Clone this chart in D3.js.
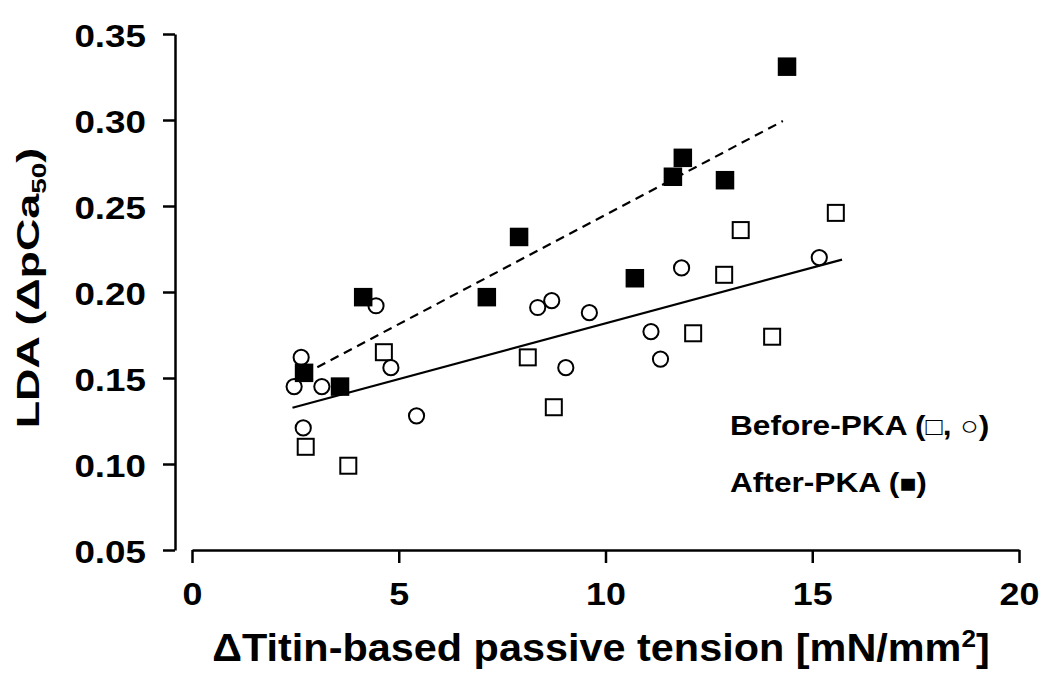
<!DOCTYPE html>
<html>
<head>
<meta charset="utf-8">
<script src="https://cdn.jsdelivr.net/npm/d3@7"></script>
<style>
  html, body { margin: 0; padding: 0; background: #fff; }
  svg { display: block; }
  text { font-family: "Liberation Sans", Arial, Helvetica, sans-serif; font-weight: bold; fill: #000; }
</style>
</head>
<body>
<svg id="chart" width="1050" height="690"></svg>
<script>
// ---- data ----
const beforeSquareX = [2.75, 3.78, 4.64, 8.12, 8.75, 12.12, 12.87, 13.27, 14.03, 15.57];
const beforeSquareY = [0.110, 0.099, 0.165, 0.162, 0.133, 0.176, 0.210, 0.236, 0.174, 0.246];

const beforeCircleX = [2.47, 2.64, 2.69, 3.14, 4.45, 4.81, 5.43, 8.36, 8.70, 9.04, 9.61, 11.10, 11.33, 11.84, 15.17];
const beforeCircleY = [0.145, 0.162, 0.121, 0.145, 0.192, 0.156, 0.128, 0.191, 0.195, 0.156, 0.188, 0.177, 0.161, 0.214, 0.220];

const afterSquareX = [2.71, 3.58, 4.14, 7.13, 7.91, 10.71, 11.63, 11.87, 12.89, 14.39];
const afterSquareY = [0.153, 0.145, 0.197, 0.197, 0.232, 0.208, 0.267, 0.278, 0.265, 0.331];

const beforeFitX = [2.43, 15.72];
const beforeFitY = [0.1327, 0.2188];
const afterFitX = [2.71, 14.29];
const afterFitY = [0.1522, 0.2994];

const xTicks = [0, 5, 10, 15, 20];
const xTickLabels = ["0", "5", "10", "15", "20"];
const yTicks = [0.05, 0.10, 0.15, 0.20, 0.25, 0.30, 0.35];
const yTickLabels = ["0.05", "0.10", "0.15", "0.20", "0.25", "0.30", "0.35"];

// ---- layout ----
const svg = d3.select("#chart");
const x = d3.scaleLinear().domain([0, 20]).range([192, 1019]);
const y = d3.scaleLinear().domain([0.05, 0.35]).range([550, 34]);

const zip = (a, b) => a.map((v, i) => [v, b[i]]);

// fit lines
const line = d3.line().x(d => x(d[0])).y(d => y(d[1]));
svg.append("path")
  .attr("d", line(zip(beforeFitX, beforeFitY)))
  .attr("fill", "none").attr("stroke", "#000").attr("stroke-width", 2.2);
svg.append("path")
  .attr("d", line(zip(afterFitX, afterFitY)))
  .attr("fill", "none").attr("stroke", "#000").attr("stroke-width", 2.2)
  .attr("stroke-dasharray", "9,6");

// open squares
const so = 16;
svg.append("g").selectAll("rect").data(zip(beforeSquareX, beforeSquareY)).join("rect")
  .attr("x", d => x(d[0]) - so / 2).attr("y", d => y(d[1]) - so / 2)
  .attr("width", so).attr("height", so)
  .attr("fill", "#fff").attr("stroke", "#000").attr("stroke-width", 2);

// open circles
svg.append("g").selectAll("circle").data(zip(beforeCircleX, beforeCircleY)).join("circle")
  .attr("cx", d => x(d[0])).attr("cy", d => y(d[1])).attr("r", 7.6)
  .attr("fill", "#fff").attr("stroke", "#000").attr("stroke-width", 2);

// filled squares
const sf = 18.5;
svg.append("g").selectAll("rect").data(zip(afterSquareX, afterSquareY)).join("rect")
  .attr("x", d => x(d[0]) - sf / 2).attr("y", d => y(d[1]) - sf / 2)
  .attr("width", sf).attr("height", sf)
  .attr("fill", "#000");

// axes
const yAxis = d3.axisLeft(y).tickValues(yTicks).tickFormat((d, i) => yTickLabels[i])
  .tickSize(12).tickSizeOuter(0);
const gy = svg.append("g").attr("transform", "translate(175,0)").call(yAxis);
gy.attr("font-family", null).attr("font-size", null);
gy.selectAll("path.domain, line").attr("stroke", "#000").attr("stroke-width", 2.5);
gy.selectAll("text")
  .attr("x", 0).attr("dy", null)
  .attr("dominant-baseline", "central")
  .attr("transform", "translate(-29,1) scale(1.15,1)")
  .style("font-size", "32px");

const xAxis = d3.axisBottom(x).tickValues(xTicks).tickFormat((d, i) => xTickLabels[i])
  .tickSize(13).tickSizeOuter(0);
const gx = svg.append("g").attr("transform", "translate(0,550)").call(xAxis);
gx.attr("font-family", null).attr("font-size", null);
gx.selectAll("path.domain, line").attr("stroke", "#000").attr("stroke-width", 2.5);
gx.selectAll("text")
  .attr("y", 0).attr("dy", null)
  .attr("transform", "translate(0,55) scale(1.12,1)")
  .style("font-size", "32px");

// x title
const xt = svg.append("text")
  .attr("text-anchor", "middle")
  .attr("transform", "translate(601,661) scale(1.09,1)")
  .style("font-size", "38px");
xt.append("tspan").text("ΔTitin-based passive tension [mN/mm");
xt.append("tspan").text("2").style("font-size", "24px").attr("dy", -14);
xt.append("tspan").text("]").attr("dy", 14);

// y title
const yt = svg.append("text")
  .attr("text-anchor", "middle")
  .attr("transform", "translate(39,288) rotate(-90) scale(1.4,1)")
  .style("font-size", "32px");
yt.append("tspan").text("LDA (ΔpCa");
yt.append("tspan").text("50").style("font-size", "20px").attr("dy", 7);
yt.append("tspan").text(")").attr("dy", -7);

// legend
const l1 = svg.append("text").attr("transform", "translate(730,435) scale(1.13,1)").style("font-size", "28px");
l1.append("tspan").text("Before-PKA (");
l1.append("tspan").text("□").style("font-size", "25px").style("font-weight", "normal");
l1.append("tspan").text(", ");
l1.append("tspan").text("○").style("font-size", "27px").style("font-weight", "normal");
l1.append("tspan").text(")");

const l2 = svg.append("text").attr("transform", "translate(730,492) scale(1.13,1)").style("font-size", "28px");
l2.append("tspan").text("After-PKA (");
l2.append("tspan").text("■").style("font-size", "25px").style("font-weight", "normal");
l2.append("tspan").text(")");
</script>
</body>
</html>
